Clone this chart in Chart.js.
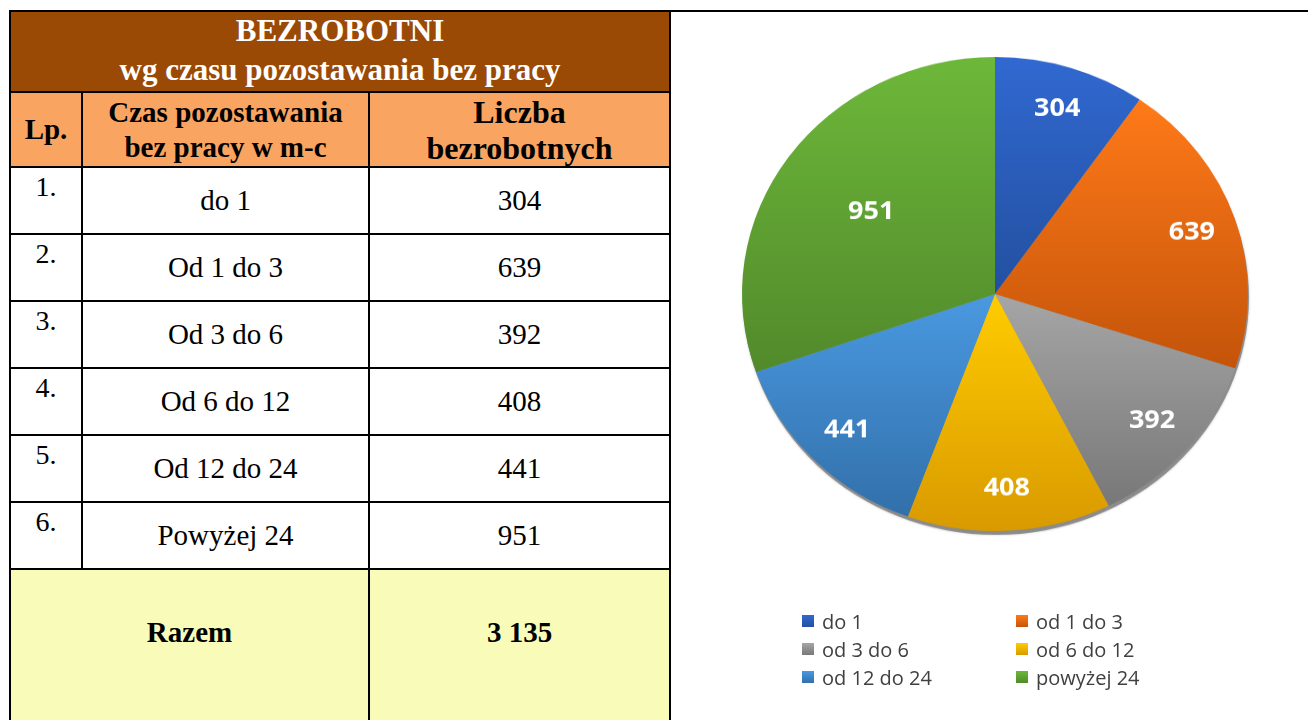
<!DOCTYPE html>
<html lang="pl">
<head>
<meta charset="utf-8"/>
<title>Bezrobotni wg czasu pozostawania bez pracy</title>
<script src="https://cdn.jsdelivr.net/npm/chart.js@4.4.0/dist/chart.umd.min.js"></script>
<style>
  html,body{margin:0;padding:0;width:1308px;height:720px;overflow:hidden;background:#fff;}
  .tab{position:absolute;left:9px;top:10px;display:grid;background:#000;
       grid-template-columns:70px 285px 299px;
       grid-template-rows:79px 73px repeat(6,65px) 200px;
       gap:2px;padding:2px 2px 0 2px;
       font-family:"Liberation Serif","Times New Roman",serif;color:#000;}
  .tab > div{display:flex;align-items:center;justify-content:center;text-align:center;}
  .title{grid-column:1 / span 3;background:#9b4a06;color:#fff;font-weight:bold;font-size:31px;line-height:39px;padding-bottom:3px;box-sizing:border-box;}
  .head{background:#f9a460;font-weight:bold;font-size:29px;line-height:35px;}
  .tab > div.big{font-size:32px;line-height:36px;}
  .cell{background:#fff;font-size:29px;}
  .tab > div.lp{align-items:flex-start;padding-top:3px;box-sizing:border-box;font-size:28px;}
  .tab > div.sum{background:#f8fcb8;font-weight:bold;font-size:29px;align-items:flex-start;padding-top:46px;box-sizing:border-box;}
  .topline{position:absolute;left:671px;top:10px;width:640px;height:2px;background:#000;}
  #box{position:absolute;left:672px;top:12px;width:636px;height:708px;transform:scaleY(0.937);transform-origin:0 282px;}
  #legend{position:absolute;left:802px;top:607px;display:grid;grid-template-columns:214px 200px;
          grid-auto-rows:28px;font-family:"Open Sans",sans-serif;font-size:20px;color:#404040;}
  #legend span{display:flex;align-items:center;white-space:nowrap;}
  #legend i{display:inline-block;width:12px;height:12px;margin-right:8px;}
</style>
</head>
<body>
<div class="tab" id="tab"></div>
<div class="topline"></div>
<div id="box"><canvas id="c"></canvas></div>
<div id="legend"></div>
<script>
const categories = ['do 1', 'od 1 do 3', 'od 3 do 6', 'od 6 do 12', 'od 12 do 24', 'powyżej 24'];
const rowNames   = ['do 1', 'Od 1 do 3', 'Od 3 do 6', 'Od 6 do 12', 'Od 12 do 24', 'Powyżej 24'];
const counts     = [304, 639, 392, 408, 441, 951];

const topColors    = ['#3169d1', '#ff7a19', '#a6a6a6', '#ffcc00', '#4a99e1', '#6db83a'];
const bottomColors = ['#2350a0', '#c4540a', '#787878', '#d99a00', '#3270aa', '#528a2b'];

const total = counts.reduce((a, b) => a + b, 0);
const fmt = n => String(n).replace(/\B(?=(\d{3})+(?!\d))/g, ' ');

// tabela
const tab = document.getElementById('tab');
let html = '<div class="title">BEZROBOTNI<br>wg czasu pozostawania bez pracy</div>' +
  '<div class="head">Lp.</div>' +
  '<div class="head">Czas pozostawania<br>bez pracy w m-c</div>' +
  '<div class="head big">Liczba<br>bezrobotnych</div>';
rowNames.forEach((name, i) => {
  html += `<div class="cell lp">${i + 1}.</div><div class="cell">${name}</div><div class="cell">${counts[i]}</div>`;
});
html += `<div class="sum" style="grid-column:1 / span 2">Razem</div><div class="sum">${fmt(total)}</div>`;
tab.innerHTML = html;

// legenda w dwóch kolumnach
document.getElementById('legend').innerHTML = categories.map((c, i) =>
  `<span><i style="background:linear-gradient(${topColors[i]},${bottomColors[i]})"></i>${c}</span>`).join('');

// gradient pionowy w obrębie każdego wycinka
function sliceFill(ctx) {
  const i = ctx.dataIndex;
  const area = ctx.chart.chartArea;
  if (!area) return topColors[i];
  const data = ctx.dataset.data;
  const sum = data.reduce((a, b) => a + b, 0);
  const cy = (area.top + area.bottom) / 2;
  const r = Math.min(area.width, area.height) / 2;
  const before = data.slice(0, i).reduce((a, b) => a + b, 0);
  const a0 = -Math.PI / 2 + 2 * Math.PI * before / sum;
  const a1 = a0 + 2 * Math.PI * data[i] / sum;
  const ys = [cy, cy + r * Math.sin(a0), cy + r * Math.sin(a1)];
  [-Math.PI / 2, Math.PI / 2, 3 * Math.PI / 2].forEach(t => {
    if (a0 <= t && t <= a1) ys.push(cy + r * Math.sin(t));
  });
  const g = ctx.chart.ctx.createLinearGradient(0, Math.min(...ys), 0, Math.max(...ys));
  g.addColorStop(0, topColors[i]);
  g.addColorStop(1, bottomColors[i]);
  return g;
}

// cień pod tarczą
const pieShadow = {
  id: 'pieShadow',
  beforeDatasetsDraw(chart) {
    const arc = chart.getDatasetMeta(0).data[0];
    if (!arc) return;
    const { x, y, outerRadius } = arc.getProps(['x', 'y', 'outerRadius'], true);
    const c = chart.ctx;
    c.save();
    c.fillStyle = 'rgba(110,110,110,0.7)';
    c.shadowColor = 'rgba(0,0,0,0.3)';
    c.shadowBlur = 3;
    c.beginPath();
    c.arc(x + 1, y + 4, outerRadius, 0, 2 * Math.PI);
    c.fill();
    c.restore();
  }
};

// etykiety z wartościami
const sliceLabels = {
  id: 'sliceLabels',
  afterDatasetsDraw(chart) {
    const meta = chart.getDatasetMeta(0);
    const data = chart.data.datasets[0].data;
    const sum = data.reduce((a, b) => a + b, 0);
    const c = chart.ctx;
    c.save();
    c.font = 'bold 27px "Open Sans", sans-serif';
    c.fillStyle = '#fff';
    c.textAlign = 'center';
    c.textBaseline = 'middle';
    meta.data.forEach((arc, i) => {
      const { x, y, startAngle, endAngle, outerRadius } =
        arc.getProps(['x', 'y', 'startAngle', 'endAngle', 'outerRadius'], true);
      const mid = (startAngle + endAngle) / 2;
      const rr = outerRadius * (data[i] / sum > 0.25 ? 0.6 : 0.82);
      c.fillText(String(data[i]), x + Math.cos(mid) * rr, y + Math.sin(mid) * rr);
    });
    c.restore();
  }
};

new Chart(document.getElementById('c'), {
  type: 'pie',
  data: {
    labels: categories,
    datasets: [{ data: counts, backgroundColor: sliceFill, borderWidth: 0, hoverOffset: 0 }]
  },
  options: {
    responsive: true,
    maintainAspectRatio: false,
    animation: false,
    layout: { padding: { left: 70, right: 60, top: 29, bottom: 173 } },
    plugins: { legend: { display: false }, tooltip: { enabled: false } }
  },
  plugins: [pieShadow, sliceLabels]
});
</script>
</body>
</html>
